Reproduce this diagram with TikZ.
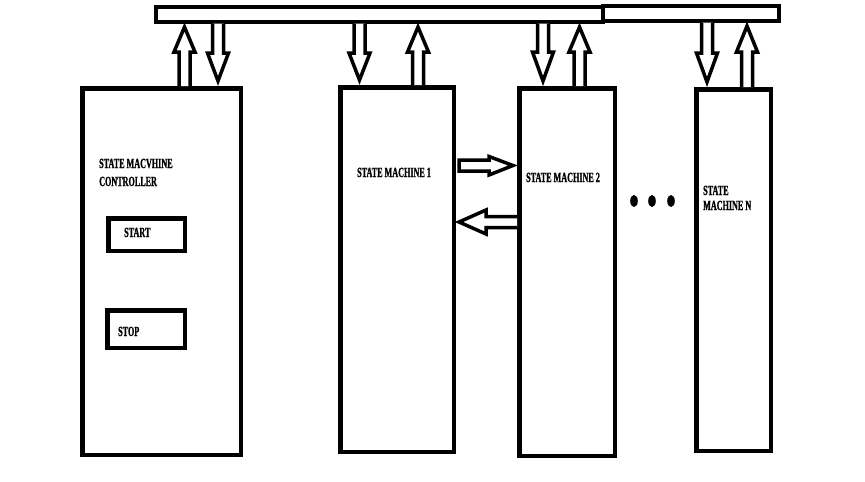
\documentclass[tikz,border=0pt]{standalone}
\usepackage{fontspec}
\newfontfamily\cond[FakeStretch=0.58,FakeBold=1]{Liberation Serif}
\begin{document}
\begin{tikzpicture}[x=1pt,y=-1pt,
  box/.style={draw,line width=4.5pt,inner sep=0pt,minimum width=#1},
  bus/.style={draw,line width=4pt,inner sep=0pt,minimum height=15pt},
  lbl/.style={anchor=base west,inner sep=0pt,font=\cond\bfseries\fontsize{14}{15}\selectfont},
  blk/.style={draw,line width=3.5pt,line join=miter,fill=white}]
\useasboundingbox (0,0) rectangle (865,482);
% buses
\node[bus,minimum width=447pt] (bus1) at (379.5,14.5) {};
\node[bus,minimum width=176pt] (bus2) at (691,13.5) {};
% boxes
\node[box=158.5pt,minimum height=366.5pt] (ctl) at (161.5,271.5) {};
\node[box=113.5pt,minimum height=364.5pt] (sm1) at (397,269.5) {};
\node[box=95.5pt,minimum height=367.5pt] (sm2) at (567,272) {};
\node[box=74.5pt,minimum height=361.5pt] (smn) at (733.5,270) {};
\node[box=76.5pt,minimum height=32.5pt] (start) at (146.5,234.5) {};
\node[box=77.5pt,minimum height=37.5pt] (stop) at (146,329) {};
% labels
\node[lbl] (t1) at (99,168) {STATE MACVHINE};
\node[lbl] (t2) at (99,186) {CONTROLLER};
\node[lbl] (t3) at (124,237) {START};
\node[lbl] (t4) at (118,336) {STOP};
\node[lbl] (t5) at (357,177) {STATE MACHINE 1};
\node[lbl] (t6) at (526,182) {STATE MACHINE 2};
\node[lbl] (t7) at (703,195) {STATE};
\node[lbl] (t8) at (703,210) {MACHINE N};
% vertical block arrows
\newcommand\myup[4]{\draw[blk] (#1-5.5,#4) -- (#1-5.5,#3) -- (#1-10.5,#3) -- (#1,#2) -- (#1+10.5,#3) -- (#1+5.5,#3) -- (#1+5.5,#4);}
\newcommand\mydown[4]{\draw[blk] (#1-5.5,#2) -- (#1-5.5,#3) -- (#1-10.5,#3) -- (#1,#4) -- (#1+10.5,#3) -- (#1+5.5,#3) -- (#1+5.5,#2);}
\myup{184.5}{27}{52}{86}
\mydown{218}{23.5}{53}{81}
\mydown{359.5}{23.5}{53}{80}
\myup{418}{27}{52}{85}
\mydown{543}{23.5}{52}{81}
\myup{579.5}{27}{52}{86}
\mydown{707}{22.5}{53}{82}
\myup{747}{26}{52}{87}
% horizontal block arrows
\draw[blk] (459,160) -- (489,160) -- (489,156.5) -- (513,165.5) -- (489,175) -- (489,171) -- (459,171) -- cycle;
\draw[blk] (517,216.5) -- (486,216.5) -- (486,210) -- (459,222) -- (486,234) -- (486,227.5) -- (517,227.5);
% dots
\fill (634,201) ellipse [x radius=3.8, y radius=6];
\fill (652,201) ellipse [x radius=3.8, y radius=6];
\fill (671,201) ellipse [x radius=3.8, y radius=6];
\end{tikzpicture}
\end{document}
